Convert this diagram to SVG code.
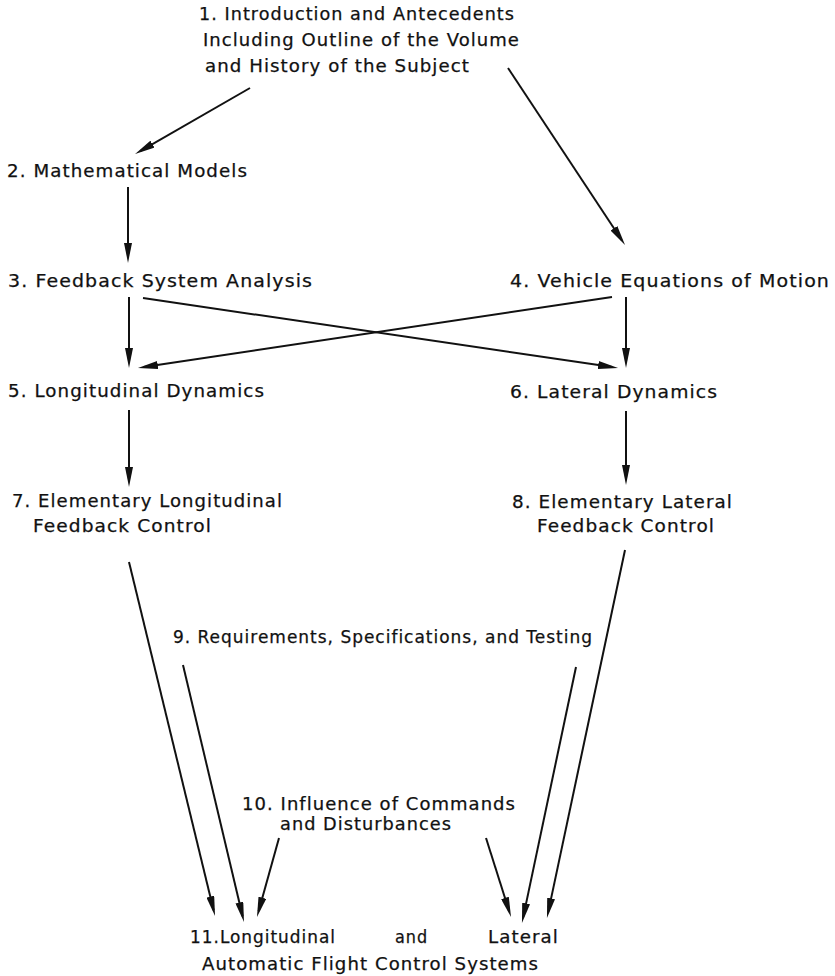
<svg xmlns="http://www.w3.org/2000/svg" width="835" height="976" viewBox="0 0 835 976">
  <style>
    text { font-family: "DejaVu Sans", "Liberation Sans", sans-serif; font-size: 17px; letter-spacing: 1px; fill: #111; stroke: #111; stroke-width: 0.25px; }
    .edge { stroke: #111; stroke-width: 2; fill: none; marker-end: url(#head); }
  </style>
  <defs>
    <marker id="head" markerUnits="userSpaceOnUse" markerWidth="20" markerHeight="8" viewBox="0 0 20 8" refX="14" refY="4" orient="auto">
      <path d="M0,0 L20,4 L0,8 Z" fill="#111"/>
    </marker>
  </defs>
  <rect width="835" height="976" fill="#fff"/>

  <g id="n1">
    <text x="199" y="20" textLength="316" lengthAdjust="spacingAndGlyphs">1. Introduction and Antecedents</text>
    <text x="203" y="46" textLength="317" lengthAdjust="spacingAndGlyphs">Including Outline of the Volume</text>
    <text x="205" y="72" textLength="265" lengthAdjust="spacingAndGlyphs">and History of the Subject</text>
  </g>
  <g id="n2">
    <text x="7" y="177" textLength="241" lengthAdjust="spacingAndGlyphs">2. Mathematical Models</text>
  </g>
  <g id="n3">
    <text x="8" y="287" textLength="305" lengthAdjust="spacingAndGlyphs">3. Feedback System Analysis</text>
  </g>
  <g id="n4">
    <text x="510" y="287" textLength="320" lengthAdjust="spacingAndGlyphs">4. Vehicle Equations of Motion</text>
  </g>
  <g id="n5">
    <text x="8" y="397" textLength="257" lengthAdjust="spacingAndGlyphs">5. Longitudinal Dynamics</text>
  </g>
  <g id="n6">
    <text x="510" y="398" textLength="208" lengthAdjust="spacingAndGlyphs">6. Lateral Dynamics</text>
  </g>
  <g id="n7">
    <text x="12" y="507" textLength="271" lengthAdjust="spacingAndGlyphs">7. Elementary Longitudinal</text>
    <text x="33" y="532" textLength="179" lengthAdjust="spacingAndGlyphs">Feedback Control</text>
  </g>
  <g id="n8">
    <text x="512" y="508" textLength="221" lengthAdjust="spacingAndGlyphs">8. Elementary Lateral</text>
    <text x="537" y="532" textLength="178" lengthAdjust="spacingAndGlyphs">Feedback Control</text>
  </g>
  <g id="n9">
    <text x="173" y="643" textLength="420" lengthAdjust="spacingAndGlyphs">9. Requirements, Specifications, and Testing</text>
  </g>
  <g id="n10">
    <text x="242" y="810" textLength="274" lengthAdjust="spacingAndGlyphs">10. Influence of Commands</text>
    <text x="280" y="830" textLength="172" lengthAdjust="spacingAndGlyphs">and Disturbances</text>
  </g>
  <g id="n11">
    <text x="190" y="943" textLength="146" lengthAdjust="spacingAndGlyphs">11.Longitudinal</text>
    <text x="395" y="943" textLength="33" lengthAdjust="spacingAndGlyphs">and</text>
    <text x="488" y="943" textLength="71" lengthAdjust="spacingAndGlyphs">Lateral</text>
    <text x="202" y="970" textLength="337" lengthAdjust="spacingAndGlyphs">Automatic Flight Control Systems</text>
  </g>

  <g id="connectors">
    <line class="edge" x1="250" y1="88" x2="140.3" y2="151.1"/>
    <line class="edge" x1="508" y1="68" x2="621.7" y2="240"/>
    <line class="edge" x1="128" y1="187" x2="128" y2="257"/>
    <line class="edge" x1="129" y1="297" x2="129" y2="362"/>
    <line class="edge" x1="143" y1="298" x2="612.1" y2="367.1"/>
    <line class="edge" x1="612" y1="297" x2="143.9" y2="367.1"/>
    <line class="edge" x1="626" y1="297" x2="626" y2="362"/>
    <line class="edge" x1="129" y1="410" x2="129" y2="481"/>
    <line class="edge" x1="626" y1="411" x2="626" y2="479"/>
    <line class="edge" x1="129" y1="562" x2="213.6" y2="910.2"/>
    <line class="edge" x1="183" y1="665" x2="242.6" y2="916.2"/>
    <line class="edge" x1="279" y1="838" x2="258.6" y2="911.2"/>
    <line class="edge" x1="486" y1="838" x2="509.2" y2="911.3"/>
    <line class="edge" x1="576" y1="667" x2="523.2" y2="917.1"/>
    <line class="edge" x1="625" y1="550" x2="548.2" y2="912.1"/>
  </g>
</svg>
